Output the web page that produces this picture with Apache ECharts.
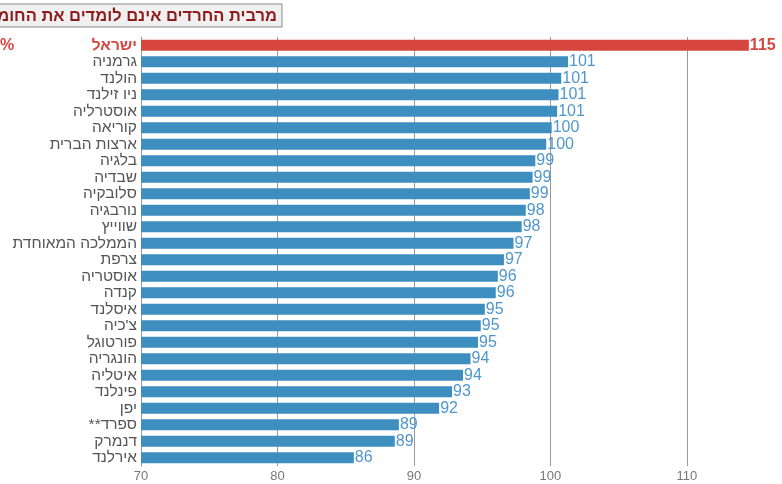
<!DOCTYPE html>
<html>
<head>
<meta charset="utf-8">
<script src="https://cdn.jsdelivr.net/npm/echarts@6/dist/echarts.min.js"></script>
<style>html,body{margin:0;padding:0;background:#fff}#c{width:782px;height:484px}</style>
</head>
<body>
<div id="c"></div>
<script>
const categories = ['ישראל','גרמניה','הולנד','ניו זילנד','אוסטרליה','קוריאה','ארצות הברית','בלגיה','שבדיה','סלובקיה','נורבגיה','שווייץ','הממלכה המאוחדת','צרפת','אוסטריה','קנדה','איסלנד',"צ'כיה",'פורטוגל','הונגריה','איטליה','פינלנד','יפן','ספרד**','דנמרק','אירלנד'];
const values = [114.55,101.3,100.8,100.6,100.5,100.1,99.7,98.9,98.7,98.5,98.2,97.9,97.3,96.6,96.15,96.0,95.2,94.9,94.7,94.15,93.6,92.8,91.85,88.9,88.6,85.6];
const xTicks = [70,80,90,100,110];
const title = 'מרבית החרדים אינם לומדים את החומר';

const RED = '#d6463f', BLUE = '#3e8ec0', LBL = '#4f97cb';
const FONT = 'Liberation Sans, Arial, sans-serif';

const data = values.map((v, i) => i === 0 ? {
  value: v,
  itemStyle: { color: RED },
  label: { color: RED, fontWeight: 'bold' }
} : v);

// right-to-left text: a trailing footnote mark is shown on the left of the word
const fmtCat = (v, i) => {
  if (i === 0) return '{r|' + v + '}';
  const m = v.match(/^(.*?)(\*+)$/);
  return m ? '{n|' + m[2] + '}{n|' + m[1] + '}' : v;
};

const chart = echarts.init(document.getElementById('c'));
chart.setOption({
  animation: false,
  textStyle: { fontFamily: FONT },
  grid: { left: 141, right: 27, top: 37, bottom: 18 },
  xAxis: {
    type: 'value', min: 70, max: 115, interval: 10,
    axisLine: { show: false }, axisTick: { show: false },
    splitLine: { showMaxLine: false, showMinLine: false, lineStyle: { color: '#999', width: 1 } },
    axisLabel: {
      color: '#777', fontSize: 13, margin: 4, fontFamily: FONT,
      formatter: v => xTicks.includes(v) ? String(v) : ''
    }
  },
  yAxis: {
    type: 'category', data: categories, inverse: true,
    axisLine: { show: true, lineStyle: { color: '#999' } },
    axisTick: { show: false },
    axisLabel: {
      interval: 0,
      fontSize: 15.5, color: '#555', margin: 4, fontFamily: FONT,
      formatter: fmtCat,
      rich: {
        r: { color: RED, fontWeight: 'bold', fontSize: 15.5, fontFamily: FONT },
        n: { color: '#555', fontSize: 15.5, fontFamily: FONT }
      }
    }
  },
  series: [{
    type: 'bar', data: data, barWidth: 11,
    itemStyle: { color: BLUE },
    label: {
      show: true, position: 'right', distance: 1, color: LBL, fontSize: 16,
      fontFamily: FONT,
      formatter: p => String(Math.round(p.value))
    }
  }],
  graphic: [
    { type: 'rect', shape: { x: -2, y: 4, width: 284, height: 23 },
      style: { fill: '#f0f0f0', stroke: '#888', lineWidth: 1 } },
    { type: 'text', x: 277, y: 16,
      style: { text: title, textAlign: 'right', textVerticalAlign: 'middle',
        fill: '#8e1c1c', font: 'bold 16.5px ' + FONT } },
    { type: 'text', x: 0, y: 46,
      style: { text: '%', textAlign: 'left', textVerticalAlign: 'middle',
        fill: RED, font: 'bold 16px ' + FONT } }
  ]
});
</script>
</body>
</html>
